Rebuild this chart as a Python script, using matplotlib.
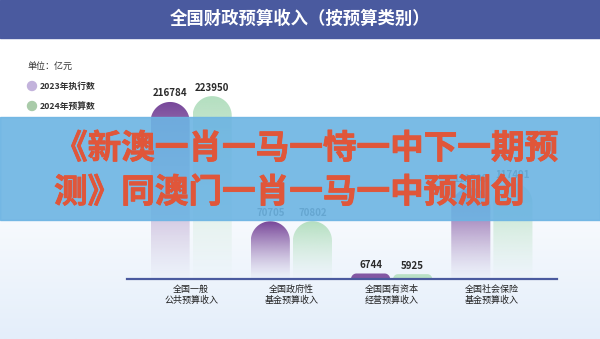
import numpy as np
import matplotlib.pyplot as plt
import matplotlib.patheffects as pe
from matplotlib.path import Path
from matplotlib.patches import PathPatch, Rectangle, Circle
from matplotlib.colors import to_rgb, LinearSegmentedColormap

plt.rcParams['font.family'] = ['Noto Sans CJK SC', 'DejaVu Sans']

# data
categories = ['全国一般\n公共预算收入', '全国政府性\n基金预算收入',
              '全国国有资本\n经营预算收入', '全国社会保险\n基金预算收入']
vals_2023 = [216784, 70705, 6744, 111500]
vals_2024 = [223950, 70802, 5925, 117491]
series = ['2023年执行数', '2024年预算数']

W, H = 600, 339
fig = plt.figure(figsize=(W / 100, H / 100), dpi=100)

# background: white fading to pale blue, with title band
bg = fig.add_axes([0, 0, 1, 1], zorder=0)
bg.set_xlim(0, W)
bg.set_ylim(H, 0)
bg.axis('off')
bg_cmap = LinearSegmentedColormap.from_list('bg', ['#ffffff', '#ffffff', '#e4eefa'])
bg.imshow(np.linspace(0, 1, 256)[:, None], cmap=bg_cmap, aspect='auto',
          extent=[0, W, H, 0], zorder=0)
bg.add_patch(Rectangle((0, 0), W, 38, color='#4a5a9f', zorder=1))
bg.text(W / 2, 19, '全国财政预算收入（按预算类别）', color='white', fontsize=12.5,
        fontweight='bold', ha='center', va='center', zorder=2)

bg.text(28, 66, '单位：亿元', fontsize=6.5, color='#333333', va='center', zorder=2)
leg_colors = ['#c3b3dc', '#a9cba9']
for i, (name, c) in enumerate(zip(series, leg_colors)):
    y = 86 + i * 20
    bg.add_patch(Circle((32, y), 4.5, color=c, zorder=2))
    bg.text(40, y, name, fontsize=6.3, fontweight='bold', color='#333333',
            va='center', zorder=2)

# chart axes
left, base, right, top = 127, 279, 557, 83
ax = fig.add_axes([left / W, (H - base) / H, (right - left) / W, (base - top) / H],
                  zorder=1)
ax.set_facecolor('none')
x0, x1, ymax = -0.64, 3.65, 240000
xpx = (right - left) / (x1 - x0)
ypx = (base - top) / ymax

bw = 0.39
off = 0.21
top_colors = ['#774699', '#b4dfc0']


def bar_path(xc, h):
    r_px = bw * xpx / 2
    rr = min(r_px, h * ypx)
    rx, ry = rr / xpx, rr / ypx
    l, r = xc - bw / 2, xc + bw / 2
    t1 = np.linspace(np.pi, np.pi / 2, 16)
    t2 = np.linspace(np.pi / 2, 0, 16)
    pts = [(l, 0)]
    pts += list(zip(l + rx + rx * np.cos(t1), h - ry + ry * np.sin(t1)))
    pts += list(zip(r - rx + rx * np.cos(t2), h - ry + ry * np.sin(t2)))
    pts += [(r, 0), (l, 0)]
    return Path(pts, closed=True)


for k, vals in enumerate([vals_2023, vals_2024]):
    c = np.array(to_rgb(top_colors[k]))
    for i, v in enumerate(vals):
        xc = i - off if k == 0 else i + off
        patch = PathPatch(bar_path(xc, v), facecolor='none', edgecolor='none')
        ax.add_patch(patch)
        frac = np.linspace(0, 1, 200)
        if v * ypx < bw * xpx:
            alpha = np.ones_like(frac) * 0.9
        else:
            alpha = 0.02 + 0.98 * frac ** 1.3
        img = np.zeros((200, 1, 4))
        img[:, 0, :3] = c
        img[:, 0, 3] = alpha
        im = ax.imshow(img, origin='lower', aspect='auto',
                       extent=[xc - bw / 2, xc + bw / 2, 0, v], zorder=2)
        im.set_clip_path(patch)
        ax.annotate(f'{v}', (xc, v), xytext=(0, 2.5), textcoords='offset points',
                    ha='center', va='bottom', fontsize=7, fontweight='bold',
                    color='#2a2a2a', zorder=3)

ax.set_xlim(x0, x1)
ax.set_ylim(0, ymax)
ax.set_xticks(range(len(categories)), categories)
ax.set_yticks([])
ax.tick_params(axis='x', length=0, pad=4, labelsize=6.5, labelcolor='#222222')
for t in ax.get_xticklabels():
    t.set_linespacing(1.3)
for s in ['top', 'left', 'right']:
    ax.spines[s].set_visible(False)
ax.spines['bottom'].set_color('#4a5a9e')
ax.spines['bottom'].set_linewidth(1.6)

# overlay banner
ov = fig.add_axes([0, 0, 1, 1], zorder=5)
ov.set_xlim(0, W)
ov.set_ylim(H, 0)
ov.axis('off')
ov.set_facecolor('none')
ov.add_patch(Rectangle((0, 117), W, 103, color='#6cb4e3', alpha=0.9))
thick = [pe.withStroke(linewidth=0.6, foreground='#e0563a')]
ov.text(54, 149, '《新澳一肖一马一恃一中下一期预', color='#e0563a', fontsize=24.2,
        fontweight='heavy', va='center', ha='left', path_effects=thick)
ov.text(54, 193, '测》同澳门一肖一马一中预测创', color='#e0563a', fontsize=24.2,
        fontweight='heavy', va='center', ha='left', path_effects=thick)

fig.savefig('out.png', dpi=100)
